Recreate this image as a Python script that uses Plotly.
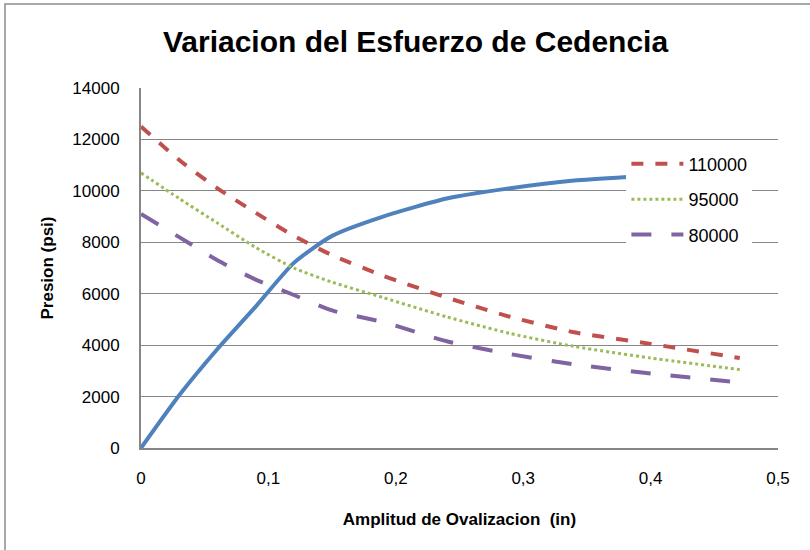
import plotly.graph_objects as go

# ---- data ----
x_in = [0, 0.03, 0.06, 0.09, 0.12, 0.15, 0.19, 0.24, 0.29, 0.34, 0.40, 0.47]
ovalizacion = [0, 2050, 3850, 5500, 7200, 8250, 9000, 9700, 10100, 10400, 10600, 10850]
p_110000 = [12500, 11200, 10100, 9150, 8250, 7500, 6700, 5850, 5100, 4500, 4050, 3500]
p_95000 = [10700, 9700, 8750, 7800, 7000, 6450, 5850, 5100, 4450, 3950, 3500, 3050]
p_80000 = [9100, 8200, 7300, 6550, 5950, 5350, 4900, 4150, 3650, 3250, 2900, 2550]
series_names = ["110000", "95000", "80000"]
x_tickvals = [0, 0.1, 0.2, 0.3, 0.4, 0.5]
x_ticktext = ["0", "0,1", "0,2", "0,3", "0,4", "0,5"]
y_tickvals = [0, 2000, 4000, 6000, 8000, 10000, 12000, 14000]

FONT = "Liberation Sans, Arial, sans-serif"
GRID = "#868686"

fig = go.Figure()
fig.add_trace(go.Scatter(x=x_in, y=ovalizacion, mode="lines", showlegend=False,
                         line=dict(color="#4F81BD", width=4, shape="spline", smoothing=0.6)))
fig.add_trace(go.Scatter(x=x_in, y=p_110000, mode="lines", name=series_names[0], legendgroup="a",
                         line=dict(color="#C0504D", width=4, dash="dash", shape="spline", smoothing=0.6)))
fig.add_trace(go.Scatter(x=x_in, y=p_95000, mode="lines", name=series_names[1], legendgroup="b",
                         line=dict(color="#9BBB59", width=3, dash="dot", shape="spline", smoothing=0.6)))
fig.add_trace(go.Scatter(x=x_in, y=p_80000, mode="lines", name=series_names[2], legendgroup="c",
                         line=dict(color="#8064A2", width=4, dash="longdash", shape="spline", smoothing=0.6)))

fig.update_layout(
    width=810, height=550,
    margin=dict(l=141, r=32, t=88, b=102),
    paper_bgcolor="white", plot_bgcolor="white",
    font=dict(family=FONT, size=17, color="black"),
    title=dict(text="<b>Variacion del Esfuerzo de Cedencia</b>",
               font=dict(family=FONT, size=30, color="black"),
               x=0.513, xanchor="center", xref="container",
               y=0.925, yanchor="middle", yref="container"),
    xaxis=dict(range=[0, 0.5], tickvals=x_tickvals, ticktext=x_ticktext,
               showgrid=False, zeroline=False, showline=True, linecolor=GRID, linewidth=2,
               ticks="", ticklabelstandoff=14, tickfont=dict(family=FONT, size=17),
               title=dict(text="<b>Amplitud de Ovalizacion  (in)</b>",
                          font=dict(family=FONT, size=17), standoff=26)),
    yaxis=dict(range=[0, 14000], tickvals=y_tickvals, tickformat="d",
               showgrid=True, gridcolor=GRID, gridwidth=1.3, zeroline=False,
               showline=True, linecolor=GRID, linewidth=2,
               ticks="", ticklabelstandoff=16, tickfont=dict(family=FONT, size=17),
               title=dict(text="<b>Presion (psi)</b>",
                          font=dict(family=FONT, size=17), standoff=14)),
    legend=dict(x=0.762, y=0.84, xanchor="left", yanchor="top",
                bgcolor="white", borderwidth=0, traceorder="grouped",
                tracegroupgap=9, itemwidth=52, font=dict(family=FONT, size=18)),
    shapes=[dict(type="rect", xref="paper", yref="paper",
                 x0=(5 - 141) / 637, x1=1.4,
                 y0=-0.6, y1=(448 - 4) / 360,
                 line=dict(color="#8C8C8C", width=1.5), fillcolor="rgba(0,0,0,0)",
                 layer="below")],
)

fig.write_html("out.html")
